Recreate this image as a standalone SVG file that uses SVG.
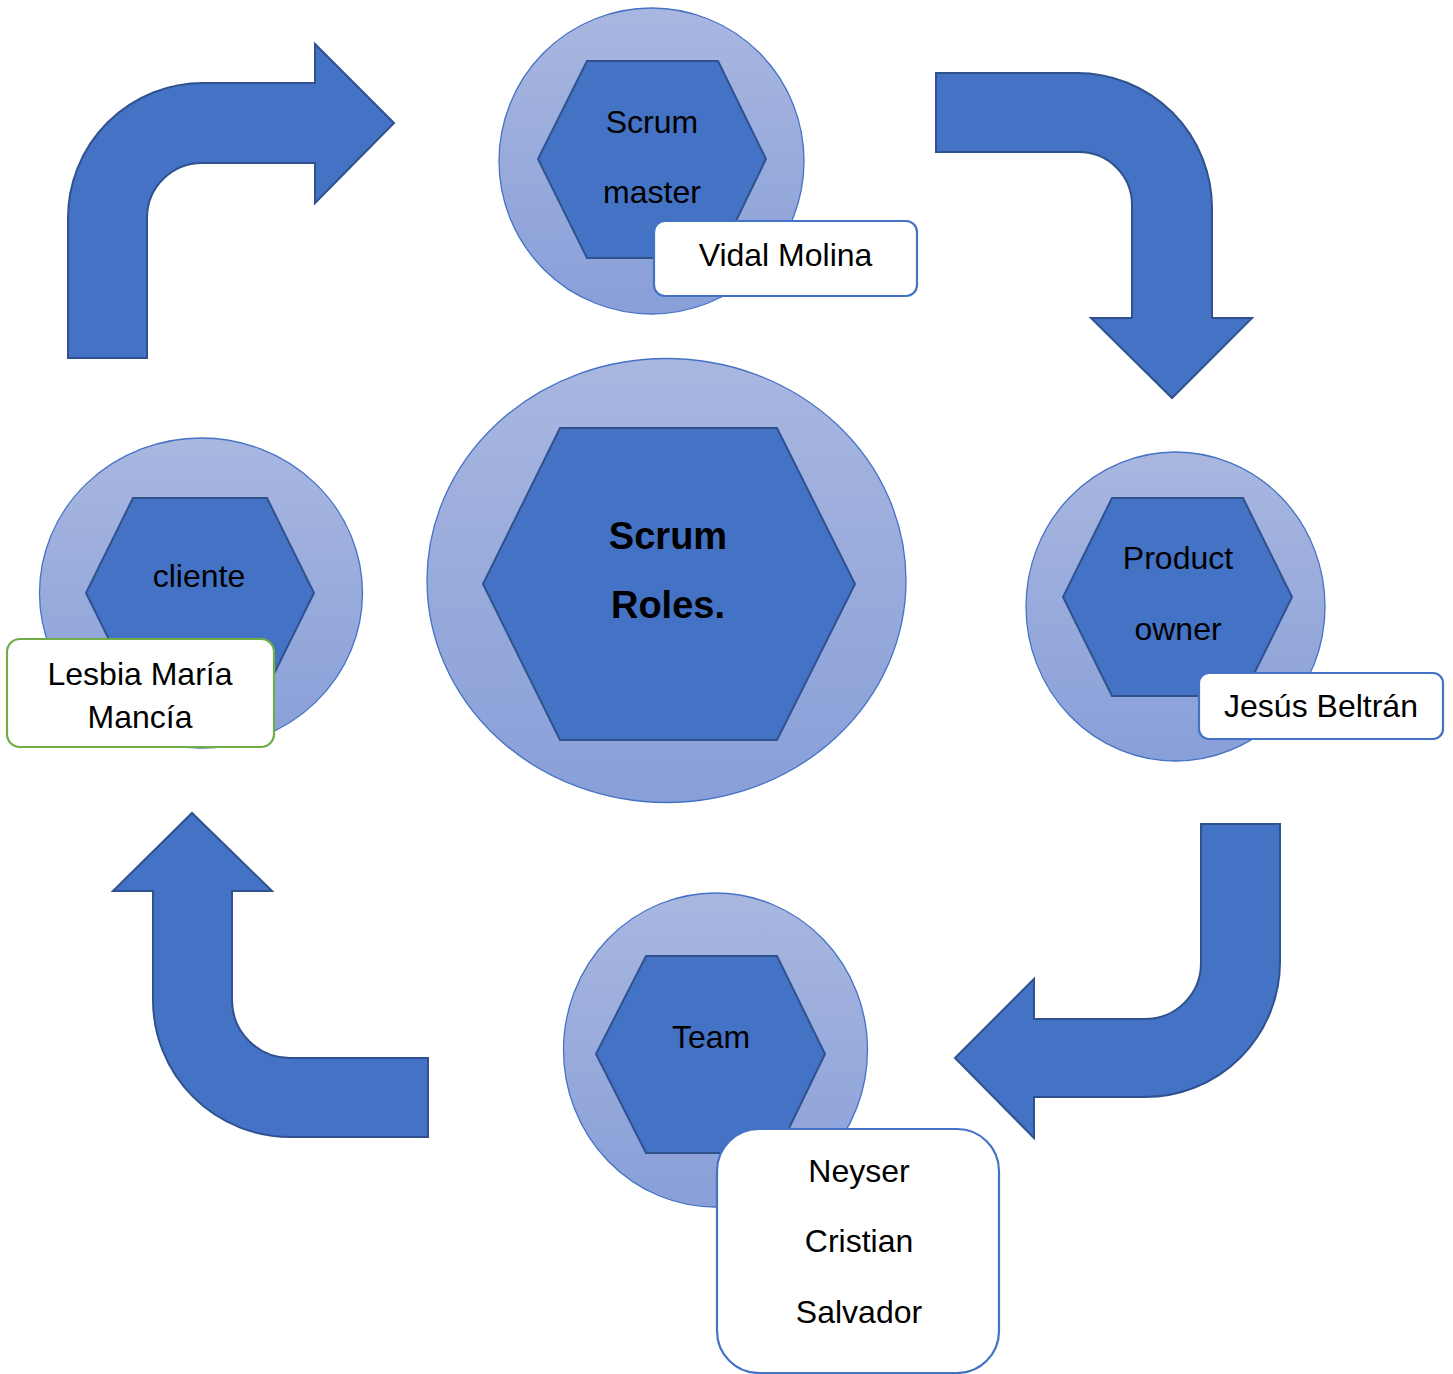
<svg xmlns="http://www.w3.org/2000/svg" width="1453" height="1374" viewBox="0 0 1453 1374">
<defs>
<linearGradient id="ring" x1="0" y1="0" x2="0" y2="1">
<stop offset="0" stop-color="#A9B7E0"/>
<stop offset="1" stop-color="#889FD8"/>
</linearGradient>
</defs>
<style>
.ring{fill:url(#ring);stroke:#4472C4;stroke-width:1.3}
.hex{fill:#4472C4;stroke:#2F528F;stroke-width:2}
.arrow{fill:#4472C4;stroke:#2F528F;stroke-width:2;stroke-linejoin:miter}
.box{fill:#FFFFFF;stroke:#4472C4;stroke-width:2.2}
.gbox{fill:#FFFFFF;stroke:#70AD47;stroke-width:2.2}
text{font-family:"Liberation Sans",Arial,sans-serif;fill:#000000;text-anchor:middle}
.t{font-size:32px}
.big{font-size:38px;font-weight:bold}
</style>
<rect width="1453" height="1374" fill="#FFFFFF"/>
<g id="connectors">
<path class="arrow" d="M68,358 L68,218 A135,135 0 0 1 203,83 L315,83 L315,44 L394,123 L315,203 L315,163 L202,163 A55,55 0 0 0 147,218 L147,358 Z"/>
<path class="arrow" d="M936,73 L1077,73 A135,135 0 0 1 1212,208 L1212,318 L1252,318 L1172,398 L1091,318 L1132,318 L1132,205 A53,53 0 0 0 1079,152 L936,152 Z"/>
<path class="arrow" d="M1201,824 L1280,824 L1280,962 A135,135 0 0 1 1145,1097 L1034,1097 L1034,1138 L955,1058 L1034,979 L1034,1019 L1145,1019 A56,56 0 0 0 1201,963 Z"/>
<path class="arrow" d="M428,1058 L428,1137 L290,1137 A137,137 0 0 1 153,1000 L153,891 L113,891 L192,813 L272,891 L232,891 L232,1000 A58,58 0 0 0 290,1058 Z"/>
</g>
<g id="center">
<ellipse class="ring" cx="666.5" cy="580.5" rx="239.5" ry="222"/>
<polygon class="hex" points="560,428 777,428 855,584 777,740 560,740 483,584"/>
<text class="big" x="668" y="549">Scrum</text>
<text class="big" x="668" y="618">Roles.</text>
</g>
<g id="scrum-master">
<ellipse class="ring" cx="651.5" cy="161" rx="152.5" ry="153"/>
<polygon class="hex" points="587,61 718,61 766,159 718,258 587,258 538,159"/>
<text class="t" x="652" y="133">Scrum</text>
<text class="t" x="652" y="203">master</text>
<rect class="box" x="654" y="221" width="263" height="75" rx="11"/>
<text class="t" x="785.5" y="266">Vidal Molina</text>
</g>
<g id="product-owner">
<ellipse class="ring" cx="1175.5" cy="606.5" rx="149.5" ry="154.5"/>
<polygon class="hex" points="1112,498 1243,498 1292,597 1243,696 1112,696 1063,597"/>
<text class="t" x="1178" y="569">Product</text>
<text class="t" x="1178" y="640">owner</text>
<rect class="box" x="1199" y="673" width="244" height="66" rx="10"/>
<text class="t" x="1321" y="717">Jesús Beltrán</text>
</g>
<g id="team">
<ellipse class="ring" cx="715.5" cy="1050" rx="152" ry="157"/>
<polygon class="hex" points="646,956 777,956 825,1054 777,1153 646,1153 596,1054"/>
<text class="t" x="711" y="1048">Team</text>
<rect class="box" x="717" y="1129" width="282" height="244" rx="42"/>
<text class="t" x="859" y="1182">Neyser</text>
<text class="t" x="859" y="1252">Cristian</text>
<text class="t" x="859" y="1323">Salvador</text>
</g>
<g id="cliente">
<ellipse class="ring" cx="201" cy="593" rx="161.5" ry="155"/>
<polygon class="hex" points="133,498 267,498 314,593 267,688 133,688 86,593"/>
<text class="t" x="199" y="587">cliente</text>
<rect class="gbox" x="7" y="639" width="267" height="108" rx="13"/>
<text class="t" x="140" y="685">Lesbia María</text>
<text class="t" x="140" y="728">Mancía</text>
</g>
</svg>
